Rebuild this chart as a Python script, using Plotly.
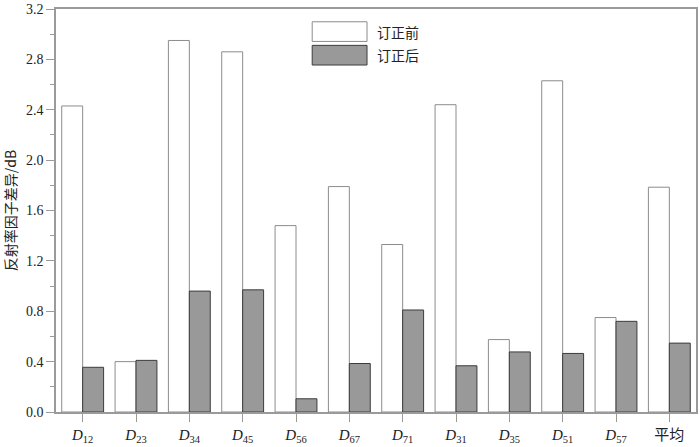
import plotly.graph_objects as go

categories = ["D12", "D23", "D34", "D45", "D56", "D67", "D71", "D31", "D35", "D51", "D57", "平均"]
tick_labels = ["<i>D</i><sub>12</sub>", "<i>D</i><sub>23</sub>", "<i>D</i><sub>34</sub>",
               "<i>D</i><sub>45</sub>", "<i>D</i><sub>56</sub>", "<i>D</i><sub>67</sub>",
               "<i>D</i><sub>71</sub>", "<i>D</i><sub>31</sub>", "<i>D</i><sub>35</sub>",
               "<i>D</i><sub>51</sub>", "<i>D</i><sub>57</sub>", "平均"]
before = [2.43, 0.40, 2.95, 2.86, 1.48, 1.79, 1.33, 2.44, 0.575, 2.63, 0.75, 1.785]
after = [0.355, 0.41, 0.96, 0.97, 0.105, 0.385, 0.81, 0.367, 0.477, 0.465, 0.72, 0.547]
series_names = ["订正前", "订正后"]
y_ticks = [0.0, 0.4, 0.8, 1.2, 1.6, 2.0, 2.4, 2.8, 3.2]

serif = "Liberation Serif, Times New Roman, serif"
cjk = "Noto Sans CJK SC, sans-serif"
axis_col = "#9a9a9a"

fig = go.Figure()
fig.add_trace(go.Bar(x=categories, y=before, name=series_names[0],
                     marker=dict(color="white", line=dict(color="#8c8c8c", width=1))))
fig.add_trace(go.Bar(x=categories, y=after, name=series_names[1],
                     marker=dict(color="#999999", line=dict(color="#3c3c3c", width=1))))

W, H = 700, 447
L, R, T, B = 56, 2, 4, 33
pw, ph = W - L - R, H - T - B

# custom legend (large swatches like reference)
leg_x0, leg_x1 = 313, 368
rows = [(17, 37, "white", "#8c8c8c"), (41, 61, "#999999", "#3c3c3c")]
for (y0, y1, fc, lc), name in zip(rows, series_names):
    fig.add_shape(type="rect", xref="paper", yref="paper",
                  x0=(leg_x0 - L) / pw, x1=(leg_x1 - L) / pw,
                  y0=(H - B - y1) / ph, y1=(H - B - y0) / ph,
                  fillcolor=fc, line=dict(color=lc, width=1))
    fig.add_annotation(xref="paper", yref="paper", x=(376 - L) / pw, y=(H - B - (y0 + y1) / 2) / ph,
                       text=name, showarrow=False, xanchor="left", yanchor="middle",
                       font=dict(family=cjk, size=14, color="#222"))

fig.update_layout(
    width=W, height=H,
    margin=dict(l=L, r=R, t=T, b=B),
    plot_bgcolor="white", paper_bgcolor="white",
    barmode="group", bargap=0.215, bargroupgap=0,
    showlegend=False,
    font=dict(family=serif, size=14, color="#222"),
)
fig.update_xaxes(
    range=[-0.5, 11.5], tickmode="array", tickvals=categories, ticktext=tick_labels,
    ticks="outside", ticklen=8, tickcolor=axis_col, tickwidth=1,
    showline=True, linecolor=axis_col, linewidth=1.5, mirror=True,
    showgrid=False, tickfont=dict(family=serif + ", " + cjk, size=15, color="#222"),
)
fig.update_yaxes(
    range=[0, 3.2], tickmode="array", tickvals=y_ticks,
    ticktext=["%.1f" % v for v in y_ticks],
    ticks="outside", ticklen=8, tickcolor=axis_col, tickwidth=1,
    ticklabeloverflow="allow",
    minor=dict(dtick=0.2, tick0=0, ticks="outside", ticklen=4, tickcolor=axis_col),
    showline=True, linecolor=axis_col, linewidth=1.5, mirror=True,
    showgrid=False, zeroline=False,
    tickfont=dict(family=serif, size=14, color="#222"),
    title=dict(text="反射率因子差异/dB", font=dict(family=cjk, size=14, color="#222"), standoff=6),
)

fig.write_html("out.html", config={"displayModeBar": False},
               post_script="document.body.style.margin='0';document.body.style.overflow='hidden';")
